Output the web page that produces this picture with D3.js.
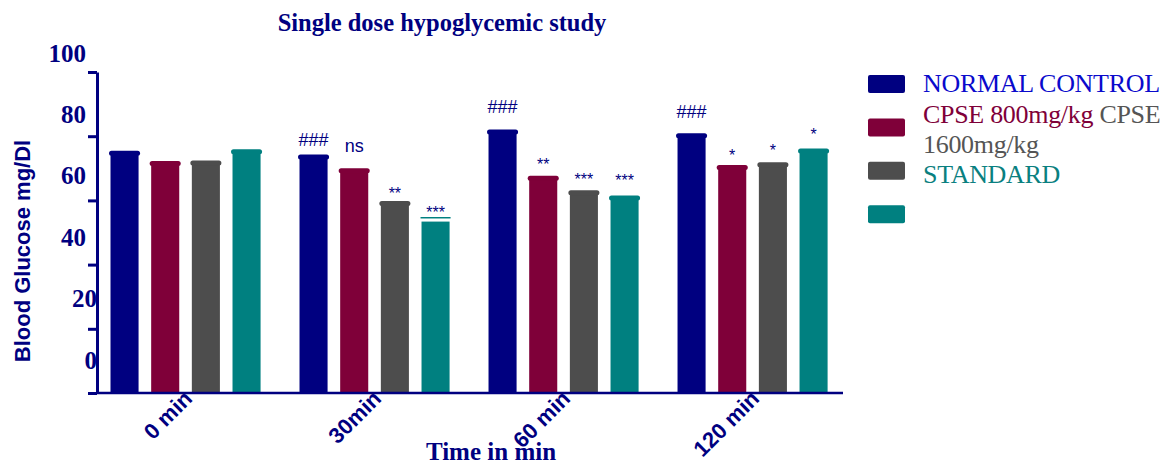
<!DOCTYPE html>
<html>
<head>
<meta charset="utf-8">
<script src="https://cdn.jsdelivr.net/npm/d3@7"></script>
<style>
  html, body { margin: 0; padding: 0; background: #fff; }
  svg { display: block; }
</style>
</head>
<body>
<svg id="chart" width="1172" height="466"></svg>
<script>
// ---------------- data ----------------
const groups = ["0 min", "30min", "60 min", "120 min"];
const seriesNames = ["NORMAL CONTROL", "CPSE 800mg/kg", "CPSE 1600mg/kg", "STANDARD"];
const normalControl = [75.5, 74.3, 82.1, 80.9];
const cpse800 = [72.3, 70.0, 67.7, 71.0];
const cpse1600 = [72.4, 59.8, 63.2, 71.9];
const standard = [75.9, 53.4, 61.5, 76.2];
// hidden SEM used to place significance marks
const semNormal = [0, 0.7, 3.2, 2.9];
const sem800 = [0, 3.2, 3.3, 2.8];
const sem1600 = [0, 2.2, 3.1, 3.5];
const semStandard = [0, 2.6, 4.6, 4.1];
// significance labels
const sigNormal = ["", "###", "###", "###"];
const sig800 = ["", "ns", "**", "*"];
const sig1600 = ["", "**", "***", "*"];
const sigStandard = ["", "***", "***", "*"];
// detached cap line seen on the STANDARD bar at 30min
const capStandard = [null, 54.6, null, null];
const yTicks = [0, 20, 40, 60, 80, 100];
const colors = ["#000080", "#7f0039", "#4d4d4d", "#008080"];
const legendTextColors = ["#0a0acc", "#7f0039", "#555555", "#0a8080"];

const seriesValues = [normalControl, cpse800, cpse1600, standard];
const seriesSem = [semNormal, sem800, sem1600, semStandard];
const seriesSig = [sigNormal, sig800, sig1600, sigStandard];
const seriesCap = [[null,null,null,null],[null,null,null,null],[null,null,null,null], capStandard];

const rows = [];
groups.forEach((g, gi) => {
  seriesValues.forEach((vals, si) => {
    rows.push({ group: g, si, value: vals[gi], sem: seriesSem[si][gi], sig: seriesSig[si][gi], cap: seriesCap[si][gi] });
  });
});

// ---------------- chart ----------------
const svg = d3.select("#chart");
const navy = "#000080";

const y = d3.scaleLinear().domain([0, 100]).range([393, 72]);
const yLab = d3.scaleLinear().domain([0, 100]).range([360, 53]);
const x0 = d3.scaleBand().domain(groups).range([91.6, 846.5]).paddingInner(0.206).paddingOuter(0.1);
const x1 = d3.scaleBand().domain(d3.range(seriesNames.length)).range([0, x0.bandwidth()]).paddingInner(0.31).paddingOuter(0);

// title
svg.append("text")
  .attr("x", 442).attr("y", 31)
  .attr("text-anchor", "middle")
  .attr("font-family", "'Liberation Serif', 'Times New Roman', serif")
  .attr("font-weight", "bold").attr("font-size", 24.5)
  .attr("fill", navy)
  .text("Single dose hypoglycemic study");

// bars
const barG = svg.append("g");
const bw = x1.bandwidth();
const bars = barG.selectAll("g.bar").data(rows).join("g").attr("class", "bar")
  .attr("transform", d => `translate(${x0(d.group) + x1(d.si)},0)`);

bars.append("rect")
  .attr("x", 0).attr("width", bw)
  .attr("y", d => y(d.value) + (d.cap === null ? 2 : 0))
  .attr("height", d => y(0) - y(d.value) - (d.cap === null ? 2 : 0))
  .attr("fill", d => colors[d.si]);

bars.filter(d => d.cap === null).append("line")
  .attr("x1", 1).attr("x2", bw - 1)
  .attr("y1", d => y(d.value) + 2.5).attr("y2", d => y(d.value) + 2.5)
  .attr("stroke", d => colors[d.si]).attr("stroke-width", 5)
  .attr("stroke-linecap", "round");

bars.filter(d => d.cap !== null).append("line")
  .attr("x1", -1).attr("x2", bw + 1)
  .attr("y1", d => y(d.cap)).attr("y2", d => y(d.cap))
  .attr("stroke", d => colors[d.si]).attr("stroke-width", 1.5);

// significance marks
bars.filter(d => d.sig).append("text")
  .attr("x", bw / 2)
  .attr("y", d => y(d.value + d.sem) - 6 + (d.sig.includes("*") ? 11 : 0))
  .attr("text-anchor", "middle")
  .attr("font-family", "'Liberation Sans', Arial, sans-serif")
  .attr("font-size", d => d.sig.includes("*") ? 16 : 18)
  .attr("fill", navy)
  .text(d => d.sig);

// y axis
const yAxis = d3.axisLeft(y).tickValues(yTicks).tickSize(9).tickSizeOuter(0).tickFormat("");
const yAxisG = svg.append("g").attr("transform", "translate(97,0)").call(yAxis);
yAxisG.select(".domain").attr("stroke", navy).attr("stroke-width", 3);
yAxisG.selectAll(".tick line").attr("stroke", navy).attr("stroke-width", 3);

svg.append("g").selectAll("text").data(yTicks).join("text")
  .attr("x", d => d <= 20 ? 97 : 86)
  .attr("y", d => yLab(d))
  .attr("dy", "0.34em")
  .attr("text-anchor", "end")
  .attr("font-family", "'Liberation Serif', 'Times New Roman', serif")
  .attr("font-weight", "bold").attr("font-size", 25)
  .attr("fill", navy)
  .text(d => d);

// x axis
const xAxis = d3.axisBottom(x0).tickSize(0).tickFormat("");
const xAxisG = svg.append("g").attr("transform", "translate(0,393)").call(xAxis);
xAxisG.select(".domain").attr("stroke", navy).attr("stroke-width", 2.5)
  .attr("d", "M96,0H843");

svg.append("g").selectAll("text").data(groups).join("text")
  .attr("transform", d => `translate(${x0(d) + x0.bandwidth() / 2 + 8},400) rotate(-45)`)
  .attr("text-anchor", "end")
  .attr("font-family", "'Liberation Sans', Arial, sans-serif")
  .attr("font-weight", "bold").attr("font-size", 22)
  .attr("fill", navy)
  .text(d => d);

// axis titles
svg.append("text")
  .attr("x", 491).attr("y", 460)
  .attr("text-anchor", "middle")
  .attr("font-family", "'Liberation Serif', 'Times New Roman', serif")
  .attr("font-weight", "bold").attr("font-size", 25)
  .attr("fill", navy)
  .text("Time in min");

svg.append("text")
  .attr("transform", "translate(30,251) rotate(-90)")
  .attr("text-anchor", "middle")
  .attr("font-family", "'Liberation Sans', Arial, sans-serif")
  .attr("font-weight", "bold").attr("font-size", 22)
  .attr("fill", navy)
  .text("Blood Glucose mg/Dl");

// legend
const legend = svg.append("g");
legend.selectAll("rect").data(seriesNames).join("rect")
  .attr("x", 868).attr("width", 37)
  .attr("y", (d, i) => 75 + i * 43.4).attr("height", 18)
  .attr("rx", 2)
  .attr("fill", (d, i) => colors[i]);

const lt = legend.append("text")
  .attr("font-family", "'Liberation Serif', 'Times New Roman', serif")
  .attr("font-size", 26)
  .attr("letter-spacing", -0.3);
lt.append("tspan").attr("x", 923).attr("y", 92).attr("fill", legendTextColors[0]).text(seriesNames[0]);
lt.append("tspan").attr("x", 923).attr("y", 123).attr("fill", legendTextColors[1]).text(seriesNames[1]);
lt.append("tspan").attr("fill", legendTextColors[2]).text(" " + seriesNames[2].split(" ")[0]);
lt.append("tspan").attr("x", 923).attr("y", 153).attr("fill", legendTextColors[2]).text(seriesNames[2].split(" ")[1]);
lt.append("tspan").attr("x", 923).attr("y", 183).attr("fill", legendTextColors[3]).text(seriesNames[3]);
</script>
</body>
</html>
